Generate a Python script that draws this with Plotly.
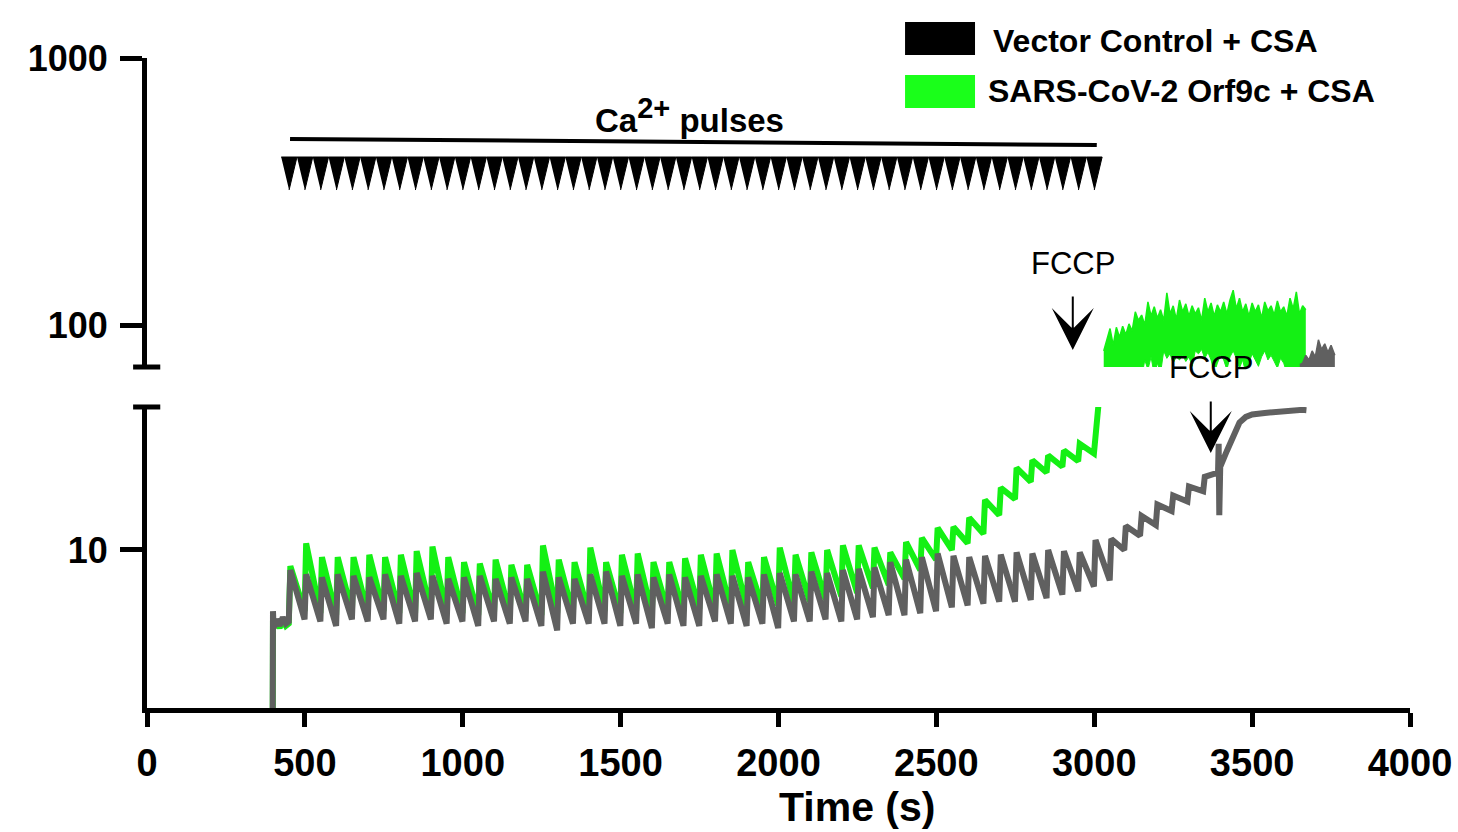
import plotly.graph_objects as go

# ---------------- data ----------------
pulse_times = [450, 500, 550, 600, 650, 700, 750, 800, 850, 900, 950, 1000, 1050,
               1100, 1150, 1200, 1250, 1300, 1350, 1400, 1450, 1500, 1550, 1600,
               1650, 1700, 1750, 1800, 1850, 1900, 1950, 2000, 2050, 2100, 2150,
               2200, 2250, 2300, 2350, 2400, 2450, 2500, 2550, 2600, 2650, 2700,
               2750, 2800, 2850, 2900, 2950, 3000]

# Vector Control + CSA (grey trace)
gray_pre_t = [398, 399, 401, 410, 420, 430, 440, 449]
gray_pre_v = [2.0, 5.9, 5.1, 5.5, 5.2, 5.6, 5.3, 5.4]
gray_peak = [8.4, 8.1, 7.9, 8.1, 8.0, 7.9, 8.1, 8.0, 8.2, 8.0, 7.8, 7.9, 8.0,
             7.8, 7.9, 7.8, 8.3, 7.9, 7.8, 8.1, 8.3, 8.0, 8.1, 7.9, 8.1, 7.9,
             8.0, 8.1, 8.0, 7.9, 8.1, 8.2, 8.1, 8.3, 8.2, 8.4, 8.5, 8.6, 9.0,
             9.2, 9.4, 9.7, 9.5, 9.4, 9.5, 9.6, 9.8, 9.7, 10.0, 9.9, 9.8, 10.9]
gray_trough = [5.5, 5.4, 5.2, 5.5, 5.4, 5.5, 5.3, 5.4, 5.5, 5.3, 5.4, 5.2, 5.4,
               5.3, 5.4, 5.2, 5.0, 5.3, 5.3, 5.3, 5.2, 5.3, 5.1, 5.3, 5.2, 5.2,
               5.4, 5.3, 5.2, 5.3, 5.1, 5.4, 5.4, 5.5, 5.4, 5.5, 5.6, 5.7, 5.7,
               5.8, 5.9, 6.1, 6.2, 6.3, 6.4, 6.4, 6.5, 6.6, 6.8, 7.0, 7.3, 7.7]
gray_late_t = [3054, 3095, 3100, 3145, 3150, 3195, 3200, 3245, 3250, 3295, 3300,
               3345, 3350, 3392, 3394, 3396, 3399, 3420, 3440, 3460, 3480, 3500,
               3540, 3580, 3620, 3660, 3672]
gray_late_v = [11.0, 10.0, 12.3, 11.3, 13.4, 12.4, 14.8, 14.0, 16.0, 15.2, 17.3,
               16.6, 18.8, 19.5, 25.0, 13.5, 20.5, 23.5, 27.0, 30.0, 31.5, 32.2,
               32.6, 33.0, 33.2, 33.5, 33.4]
gray_up_t = [3651, 3660, 3670, 3680, 3690, 3700, 3710, 3720, 3730, 3740, 3750, 3762]
gray_up_hi = [71, 72, 77, 74, 80, 76, 88, 81, 85, 79, 84, 77]
gray_up_lo = [60, 60, 60, 60, 60, 60, 60, 60, 60, 60, 60, 60]

# SARS-CoV-2 Orf9c + CSA (green trace)
green_pre_t = [398, 399, 401, 410, 420, 430, 440, 449]
green_pre_v = [2.0, 5.6, 5.2, 5.4, 5.1, 5.5, 5.2, 5.3]
green_peak = [8.7, 10.6, 9.4, 9.4, 9.4, 9.6, 9.4, 9.6, 9.9, 10.3, 9.4, 9.0, 8.9,
              9.2, 8.8, 8.8, 10.4, 9.2, 9.0, 10.2, 9.0, 9.6, 9.7, 9.0, 9.0, 9.3,
              9.6, 9.7, 10.0, 9.0, 9.4, 10.2, 9.6, 9.8, 10.0, 10.4, 10.4, 10.2,
              9.8, 10.7, 11.1, 12.1, 12.2, 13.2, 15.4, 17.1, 20.3, 21.7, 22.6,
              23.6, 25.0]
green_trough = [5.9, 5.8, 5.7, 5.9, 5.8, 5.9, 5.8, 5.8, 5.9, 5.8, 5.8, 5.7, 5.8,
                5.8, 5.8, 5.7, 5.8, 5.8, 5.8, 5.9, 5.8, 5.9, 5.8, 5.9, 5.9, 6.0,
                6.0, 6.0, 6.1, 6.1, 6.2, 6.3, 6.4, 6.5, 6.7, 6.9, 7.2, 7.4, 7.8,
                8.4, 9.2, 10.0, 10.6, 11.5, 13.5, 15.5, 18.0, 19.5, 20.5, 21.5,
                23.0]
green_late_t = [3000, 3004, 3010, 3016, 3022, 3030]
green_late_v = [23.5, 27.0, 30.0, 34.0, 45.0, 80.0]
green_up_t = [3030, 3040, 3050, 3060, 3070, 3080, 3090, 3100, 3110, 3120, 3130,
              3140, 3150, 3160, 3170, 3180, 3190, 3200, 3210, 3220, 3230, 3240,
              3250, 3260, 3270, 3280, 3290, 3300, 3310, 3320, 3330, 3340, 3350,
              3360, 3370, 3380, 3390, 3400, 3410, 3420, 3430, 3440, 3450, 3460,
              3470, 3480, 3490, 3500, 3510, 3520, 3530, 3540, 3550, 3560, 3570,
              3580, 3590, 3600, 3610, 3620, 3630, 3640, 3650, 3660, 3670]
green_up_hi = [80, 88, 97, 84, 98, 90, 99, 92, 101, 95, 112, 104, 109, 100, 122,
               108, 117, 106, 114, 104, 132, 110, 118, 105, 124, 112, 120, 108,
               118, 110, 116, 104, 126, 112, 121, 108, 119, 112, 122, 110, 124,
               135, 115, 126, 112, 120, 108, 121, 112, 119, 106, 122, 113, 118,
               109, 123, 112, 117, 108, 126, 115, 133, 110, 118, 114]
green_up_lo = [62, 64, 60, 66, 62, 60, 64, 62, 60, 65, 62, 60, 63, 74, 68, 76,
               65, 72, 66, 80, 75, 78, 72, 76, 74, 77, 73, 76, 70, 80, 78, 81,
               75, 79, 74, 66, 72, 77, 74, 68, 76, 80, 75, 69, 74, 66, 72, 78,
               74, 70, 76, 80, 74, 77, 73, 69, 75, 72, 66, 62, 64, 60, 62, 60, 62]

fccp_times = [2932, 3369]
x_ticks = [0, 500, 1000, 1500, 2000, 2500, 3000, 3500, 4000]
legend_labels = ["Vector Control + CSA", "SARS-CoV-2 Orf9c + CSA"]

# ---------------- style ----------------
GRAY = "#606060"
GREEN = "#14f014"
LEG_GREEN = "#1aff1a"
FONT = "Liberation Sans, Arial, sans-serif"
RISE = 4          # seconds for the up-stroke
TRI_HALF = 25     # half width of pulse marker (s)
TRI_TOP, TRI_BOT = 425.8, 320.3   # pulse marker vertical extent on upper axis
BAR_Y = (497.4, 472.3)            # pulse bar ends on upper axis


def sawtooth(pre_t, pre_v, peaks, troughs, late_t, late_v):
    xs, ys = list(pre_t), list(pre_v)
    for i, (pk, tr) in enumerate(zip(peaks, troughs)):
        t = pulse_times[i]
        t_next = pulse_times[i + 1] if i + 1 < len(pulse_times) else t + 50
        xs += [t + RISE, t_next - 1]
        ys += [pk, tr]
    return xs + list(late_t), ys + list(late_v)


fig = go.Figure()

gx, gy = sawtooth(green_pre_t, green_pre_v, green_peak, green_trough,
                  green_late_t, green_late_v)
kx, ky = sawtooth(gray_pre_t, gray_pre_v, gray_peak, gray_trough,
                  gray_late_t, gray_late_v)

fig.add_trace(go.Scatter(x=gx, y=gy, mode="lines", line=dict(color=GREEN, width=6),
                         xaxis="x", yaxis="y", hoverinfo="skip"))
fig.add_trace(go.Scatter(x=kx, y=ky, mode="lines", line=dict(color=GRAY, width=6),
                         xaxis="x", yaxis="y", hoverinfo="skip"))

# upper panel bands
fig.add_trace(go.Scatter(x=green_up_t, y=green_up_lo, mode="lines",
                         line=dict(color=GREEN, width=1), yaxis="y2"))
fig.add_trace(go.Scatter(x=green_up_t, y=green_up_hi, mode="lines",
                         line=dict(color=GREEN, width=1.5), fill="tonexty",
                         fillcolor=GREEN, yaxis="y2"))
fig.add_trace(go.Scatter(x=gray_up_t, y=gray_up_lo, mode="lines",
                         line=dict(color=GRAY, width=1), yaxis="y2"))
fig.add_trace(go.Scatter(x=gray_up_t, y=gray_up_hi, mode="lines",
                         line=dict(color=GRAY, width=1.5), fill="tonexty",
                         fillcolor=GRAY, yaxis="y2"))

# Ca2+ pulse markers
tx, ty = [], []
for t in pulse_times:
    tx += [t - TRI_HALF, t + TRI_HALF, t, None]
    ty += [TRI_TOP, TRI_TOP, TRI_BOT, None]
fig.add_trace(go.Scatter(x=tx, y=ty, mode="lines", fill="toself", fillcolor="black",
                         line=dict(color="black", width=1), yaxis="y2"))
# bar above pulses
fig.add_trace(go.Scatter(x=[pulse_times[0] + 3, pulse_times[-1] + 8], y=list(BAR_Y),
                         mode="lines", line=dict(color="black", width=4), yaxis="y2"))

tickfont = dict(family=FONT, size=38, color="black", weight="bold")
yfont = dict(family=FONT, size=36, color="black", weight="bold")
common = dict(showgrid=False, zeroline=False, showline=True, linecolor="black",
              linewidth=5, ticks="outside", tickwidth=5, tickcolor="black")

fig.update_layout(
    width=1458, height=832,
    margin=dict(l=147, r=48, t=58, b=124, autoexpand=False),
    plot_bgcolor="white", paper_bgcolor="white", showlegend=False,
    xaxis=dict(range=[0, 4000], tickvals=x_ticks, ticktext=[str(v) for v in x_ticks],
               ticklen=14, tickfont=tickfont, anchor="y", ticklabelstandoff=3, **common),
    yaxis=dict(type="log", domain=[0, 0.4631], range=[0.4082, 1.5356], tickvals=[10],
               ticktext=["10"], ticklen=22, tickfont=yfont, anchor="x",
               ticklabelstandoff=5, **common),
    yaxis2=dict(type="log", domain=[0.5246, 1], range=[1.8427, 3],
                tickvals=[100, 1000], ticktext=["100", "1000"], ticklen=22,
                tickfont=yfont, anchor="x", ticklabelstandoff=5, **common),
)

# axis-break caps
fig.add_shape(type="line", xref="paper", yref="y2 domain", x0=-0.011, x1=0.0105,
              y0=0, y1=0, line=dict(color="black", width=5))
fig.add_shape(type="line", xref="paper", yref="y domain", x0=-0.011, x1=0.0105,
              y0=1, y1=1, line=dict(color="black", width=5))

# legend (custom)
fig.add_shape(type="rect", xref="paper", yref="paper", x0=0.6002, x1=0.6556,
              y0=1.0046, y1=1.0554, fillcolor="black", line=dict(width=0))
fig.add_shape(type="rect", xref="paper", yref="paper", x0=0.6002, x1=0.6556,
              y0=0.9231, y1=0.9738, fillcolor=LEG_GREEN, line=dict(width=0))
fig.add_annotation(text=legend_labels[0], xref="paper", yref="paper", x=0.668, y=1.0262,
                   xanchor="left", yanchor="middle", showarrow=False,
                   font=dict(family=FONT, size=32, color="black", weight="bold"))
fig.add_annotation(text=legend_labels[1], xref="paper", yref="paper", x=0.664, y=0.9492,
                   xanchor="left", yanchor="middle", showarrow=False,
                   font=dict(family=FONT, size=32, color="black", weight="bold"))

# Ca2+ pulses label
fig.add_annotation(text="Ca<sup><span style='font-size:29px'>2+</span></sup> pulses",
                   xref="paper", yref="paper",
                   x=0.4299, y=0.912, xanchor="center", yanchor="middle", showarrow=False,
                   font=dict(family=FONT, size=33, color="black", weight="bold"))

# FCCP labels and arrows
fccp_text_y = [0.6846, 0.5231]
fccp_tip_y = [0.5508, 0.3923]
fccp_tail = [-55, -53]
for t, ty_, tip, tail in zip(fccp_times, fccp_text_y, fccp_tip_y, fccp_tail):
    fig.add_annotation(text="FCCP", xref="x", yref="paper", x=t, y=ty_,
                       xanchor="center", yanchor="middle", showarrow=False,
                       font=dict(family=FONT, size=31, color="black"))
    fig.add_annotation(text="", xref="x", yref="paper", x=t, y=tip,
                       showarrow=True, ax=0, ay=tail, arrowhead=3, arrowsize=3.5,
                       arrowwidth=2, arrowcolor="black")

# x-axis title
fig.add_annotation(text="Time (s)", xref="paper", yref="paper", x=0.562, y=-0.152,
                   xanchor="center", yanchor="middle", showarrow=False,
                   font=dict(family=FONT, size=41, color="black", weight="bold"))

fig.write_html("out.html")
